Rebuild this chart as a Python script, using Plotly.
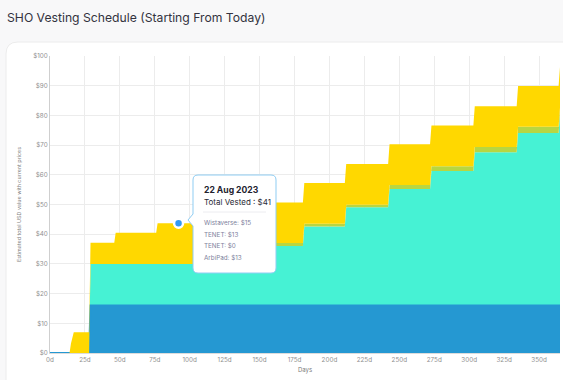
import numpy as np
import plotly.graph_objects as go

# ---------------- data ----------------
days = [0, 14, 15, 17, 28, 29, 46, 47, 76, 77, 151, 152, 181, 182, 211, 212,
        242, 243, 272, 273, 303, 304, 334, 335, 364, 365]
wistaverse = [0, 0, 0, 0, 0, 16, 16, 16, 16, 16, 16, 16, 16, 16, 16, 16,
              16, 16, 16, 16, 16, 16, 16, 16, 16, 16]
tenet = [0, 0, 0, 0, 0, 14, 14, 14, 14, 14, 14, 20, 20, 26.6, 26.6, 33.1,
         33.1, 39.2, 39.2, 45.3, 45.3, 51.6, 51.6, 58.1, 58.1, 64.4]
tenet2 = [0, 0, 0, 0, 0, 0, 0, 0, 0, 0, 0, 1.0, 1.0, 0.9, 0.9, 0.8,
          0.8, 1.4, 1.4, 1.6, 1.6, 1.8, 1.8, 2.1, 2.1, 2.2]
arbipad = [0, 0, 3.2, 7, 7, 7.1, 7.1, 10.5, 10.5, 13.7, 13.7, 13.7, 13.7, 13.7,
           13.7, 13.7, 13.7, 13.7, 13.7, 13.7, 13.7, 13.7, 13.7, 13.7, 13.7, 13.7]

x_ticks = [0, 25, 50, 75, 100, 125, 150, 175, 200, 225, 250, 275, 300, 325, 350]
y_ticks = [0, 10, 20, 30, 40, 50, 60, 70, 80, 90, 100]

tooltip_day = 92
tooltip_date = "22 Aug 2023"
tooltip_total = "$41"
tooltip_rows = ["Wistaverse: $15", "TENET: $13", "TENET: $0", "ArbiPad: $13"]

# ---------------- geometry helpers (pixel -> paper) ----------------
W, H = 563, 380
ML, MR, MT, MB = 50, 3, 56, 27
PW, PH = W - ML - MR, H - MT - MB


def px(x):
    return (x - ML) / PW


def py(y):
    return (H - MB - y) / PH


fig = go.Figure()

series = [
    ("Wistaverse", wistaverse, "#2598d2", 2),
    ("TENET", tenet, "#46f2d4", 0),
    ("TENET", tenet2, "#b7d642", 0),
    ("ArbiPad", arbipad, "#ffd800", 0),
]
for name, vals, col, lw in series:
    fig.add_trace(go.Scatter(
        x=days, y=vals, name=name, mode="lines", stackgroup="one",
        line=dict(color=col, width=lw), fillcolor=col, hoverinfo="skip",
    ))

# hover dot at the tooltip day, on top of the stack
total_series = np.array(wistaverse) + np.array(tenet) + np.array(tenet2) + np.array(arbipad)
dot_val = float(np.interp(tooltip_day, days, total_series))
fig.add_trace(go.Scatter(
    x=[tooltip_day], y=[dot_val], mode="markers",
    marker=dict(size=9, color="#3399f3", line=dict(color="white", width=2.5)),
    hoverinfo="skip", showlegend=False,
))

shapes = []
# white card
cx0, cy0, cx1, cy1, r = 6, 42, 580, 400, 12
card_path = (f"M {px(cx0)},{py(cy0 + r)} Q {px(cx0)},{py(cy0)} {px(cx0 + r)},{py(cy0)} "
             f"L {px(cx1)},{py(cy0)} L {px(cx1)},{py(cy1)} L {px(cx0)},{py(cy1)} Z")
shapes.append(dict(type="path", xref="paper", yref="paper", path=card_path,
                   fillcolor="white", line=dict(color="#ececec", width=1), layer="below"))

# tooltip box
tx0, ty0, tx1, ty1, tr = 193, 175, 276, 273, 5
ptr_y = 220
tip = (f"M {px(tx0 + tr)},{py(ty0)} L {px(tx1 - tr)},{py(ty0)} "
       f"Q {px(tx1)},{py(ty0)} {px(tx1)},{py(ty0 + tr)} "
       f"L {px(tx1)},{py(ty1 - tr)} Q {px(tx1)},{py(ty1)} {px(tx1 - tr)},{py(ty1)} "
       f"L {px(tx0 + tr)},{py(ty1)} Q {px(tx0)},{py(ty1)} {px(tx0)},{py(ty1 - tr)} "
       f"L {px(tx0)},{py(ptr_y + 6)} L {px(tx0 - 5)},{py(ptr_y)} L {px(tx0)},{py(ptr_y - 6)} "
       f"L {px(tx0)},{py(ty0 + tr)} Q {px(tx0)},{py(ty0)} {px(tx0 + tr)},{py(ty0)} Z")
shapes.append(dict(type="path", xref="paper", yref="paper", path=tip,
                   fillcolor="white", line=dict(color="#8fcdf3", width=1), layer="above"))
shapes.append(dict(type="line", xref="paper", yref="paper",
                   x0=px(203), x1=px(266), y0=py(212), y1=py(212),
                   line=dict(color="#ececf0", width=1), layer="above"))

annotations = [
    dict(text="SHO Vesting Schedule (Starting From Today)", xref="paper", yref="paper",
         x=px(5), y=py(17), xanchor="left", yanchor="middle", showarrow=False,
         font=dict(family="Inter", size=12.2, color="#333340")),
    dict(text="<b>" + tooltip_date + "</b>", xref="paper", yref="paper",
         x=px(202), y=py(190), xanchor="left", yanchor="middle", showarrow=False,
         font=dict(family="Inter", size=8.6, color="#22222e")),
    dict(text="Total Vested : " + tooltip_total, xref="paper", yref="paper",
         x=px(202), y=py(202), xanchor="left", yanchor="middle", showarrow=False,
         font=dict(family="Inter", size=8, color="#2a2a36")),
]
for i, row in enumerate(tooltip_rows):
    annotations.append(dict(text=row, xref="paper", yref="paper",
                            x=px(202), y=py(223 + i * 11.6), xanchor="left", yanchor="middle",
                            showarrow=False,
                            font=dict(family="Inter", size=6.3, color="#7d7f9c")))

fig.update_layout(
    width=W, height=H,
    margin=dict(l=ML, r=MR, t=MT, b=MB, pad=0),
    paper_bgcolor="#f8f8f9", plot_bgcolor="rgba(0,0,0,0)",
    showlegend=False, hovermode=False,
    font=dict(family="Inter", size=6.3, color="#8a8a8a"),
    shapes=shapes, annotations=annotations,
    xaxis=dict(range=[0, 365], tickvals=x_ticks, ticktext=[f"{t}d" for t in x_ticks],
               showgrid=True, gridcolor="#ececec", gridwidth=1, zeroline=False,
               showline=True, linecolor="#dcdcdc", ticks="", ticklen=0,
               tickfont=dict(size=6.3, color="#8f8f8f"),
               title=dict(text="Days", font=dict(size=6, color="#7a7a7a"), standoff=5)),
    yaxis=dict(range=[0, 100], tickvals=y_ticks, ticktext=[f"${t}" for t in y_ticks],
               showgrid=True, gridcolor="#ececec", gridwidth=1, zeroline=False,
               showline=True, linecolor="#cfcfcf", ticks="", ticklen=0,
               tickfont=dict(size=6.3, color="#8f8f8f"),
               title=dict(text="Estimated total USD value with current prices",
                          font=dict(size=5.4, color="#808080"), standoff=11)),
)

fig.write_html("out.html", config={"displayModeBar": False},
               post_script="document.body.style.margin='0';")
